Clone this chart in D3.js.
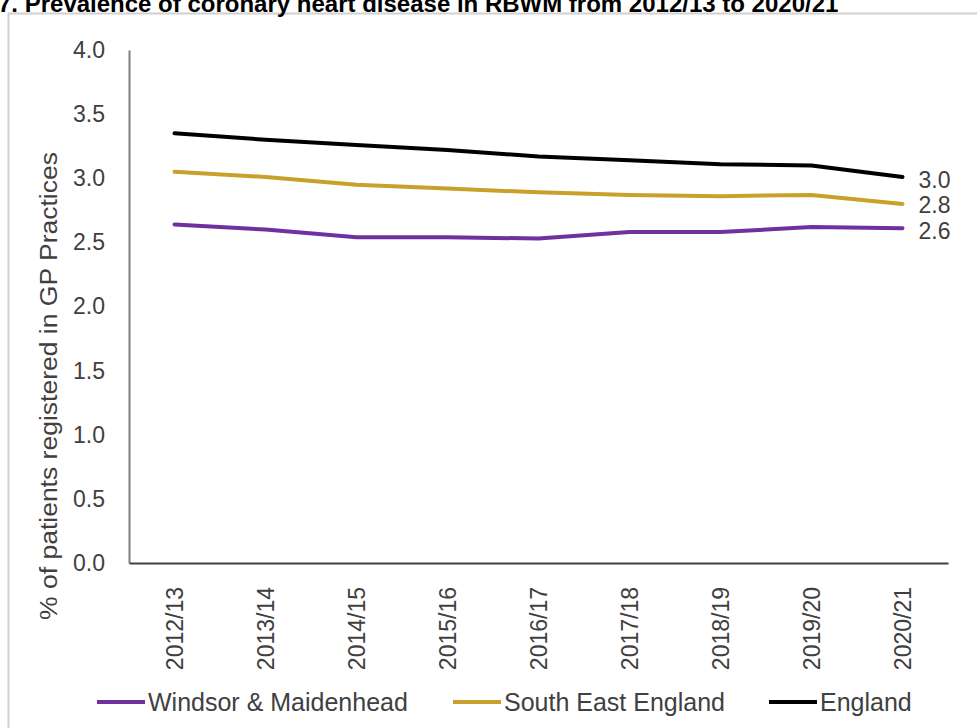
<!DOCTYPE html>
<html>
<head>
<meta charset="utf-8">
<script src="https://cdn.jsdelivr.net/npm/d3@7"></script>
<style>
  html, body { margin: 0; padding: 0; background: #fff; }
  svg { display: block; }
</style>
</head>
<body>
<script>
const categories = ["2012/13","2013/14","2014/15","2015/16","2016/17","2017/18","2018/19","2019/20","2020/21"];
const windsor = [2.64, 2.60, 2.54, 2.54, 2.53, 2.58, 2.58, 2.62, 2.61];
const southEast = [3.05, 3.01, 2.95, 2.92, 2.89, 2.87, 2.86, 2.87, 2.80];
const england = [3.35, 3.30, 3.26, 3.22, 3.17, 3.14, 3.11, 3.10, 3.01];
const seriesNames = ["Windsor & Maidenhead", "South East England", "England"];
const seriesColors = ["#7030A0", "#C9A02A", "#000000"];
const endLabels = ["2.6", "2.8", "3.0"];
const yTicks = [0, 0.5, 1, 1.5, 2, 2.5, 3, 3.5, 4];
const title = "7. Prevalence of coronary heart disease in RBWM from 2012/13 to 2020/21";
const yTitle = "% of patients registered in GP Practices";

const W = 977, H = 728;
const svg = d3.select("body").append("svg").attr("width", W).attr("height", H);
const font = "'Liberation Sans', Arial, sans-serif";
const textColor = "#404040";

// frame
svg.append("rect").attr("x", 8.5).attr("y", 13.5).attr("width", W + 10).attr("height", H + 10)
  .attr("fill", "#fff").attr("stroke", "#d0d0d0").attr("stroke-width", 2);

// title (top clipped, as in the reference)
svg.append("text").attr("x", -2).attr("y", 12)
  .attr("font-family", font).attr("font-weight", "bold").attr("font-size", 24)
  .attr("fill", "#000").text(title);

const x = d3.scaleBand().domain(categories).range([129, 948]).padding(0);
const y = d3.scaleLinear().domain([0, 4]).range([563, 50]);

// y axis
const yAxis = d3.axisLeft(y).tickValues(yTicks).tickSize(0).tickPadding(24)
  .tickFormat(d3.format(".1f"));
const gy = svg.append("g").attr("transform", "translate(129,0)").call(yAxis);
gy.select(".domain").attr("stroke", "#7f7f7f").attr("stroke-width", 2);
gy.selectAll("text").attr("font-family", font).attr("font-size", 23).attr("fill", textColor);

// x axis
const xAxis = d3.axisBottom(x).tickSize(0).tickPadding(0);
const gx = svg.append("g").attr("transform", "translate(0,563)").call(xAxis);
gx.select(".domain").attr("stroke", "#404040").attr("stroke-width", 2);
gx.selectAll("text")
  .attr("font-family", font).attr("font-size", 23).attr("fill", textColor)
  .attr("text-anchor", "end")
  .attr("transform", "translate(0,24) rotate(-90)")
  .attr("x", 0).attr("y", 0).attr("dy", "0.35em");

// y title
svg.append("text")
  .attr("transform", "translate(49,386) rotate(-90)")
  .attr("x", 0).attr("y", 0).attr("dy", "0.35em")
  .attr("text-anchor", "middle")
  .attr("font-family", font).attr("font-size", 23).attr("fill", textColor)
  .attr("textLength", 468).attr("lengthAdjust", "spacingAndGlyphs")
  .text(yTitle);

// lines
const allSeries = [windsor, southEast, england];
const line = d3.line()
  .x((d, i) => x(categories[i]) + x.bandwidth() / 2)
  .y(d => y(d));
allSeries.forEach((s, k) => {
  svg.append("path").datum(s).attr("d", line)
    .attr("fill", "none").attr("stroke", seriesColors[k]).attr("stroke-width", 4)
    .attr("stroke-linejoin", "round").attr("stroke-linecap", "round");
});

// end labels
const lastCat = categories[categories.length - 1];
const endYs = [231, 205, 180];
allSeries.forEach((s, k) => {
  svg.append("text")
    .attr("x", x(lastCat) + x.bandwidth() / 2 + 16)
    .attr("y", endYs[k])
    .attr("dy", "0.35em")
    .attr("font-family", font).attr("font-size", 23).attr("fill", textColor)
    .text(endLabels[k]);
});

// legend
const legendItems = [
  { x0: 97, name: seriesNames[0], color: seriesColors[0] },
  { x0: 453, name: seriesNames[1], color: seriesColors[1] },
  { x0: 769, name: seriesNames[2], color: seriesColors[2] }
];
const ly = 702;
legendItems.forEach(it => {
  svg.append("line").attr("x1", it.x0).attr("x2", it.x0 + 48)
    .attr("y1", ly).attr("y2", ly)
    .attr("stroke", it.color).attr("stroke-width", 4);
  svg.append("text").attr("x", it.x0 + 51).attr("y", ly).attr("dy", "0.35em")
    .attr("font-family", font).attr("font-size", 25).attr("fill", textColor)
    .text(it.name);
});
</script>
</body>
</html>
